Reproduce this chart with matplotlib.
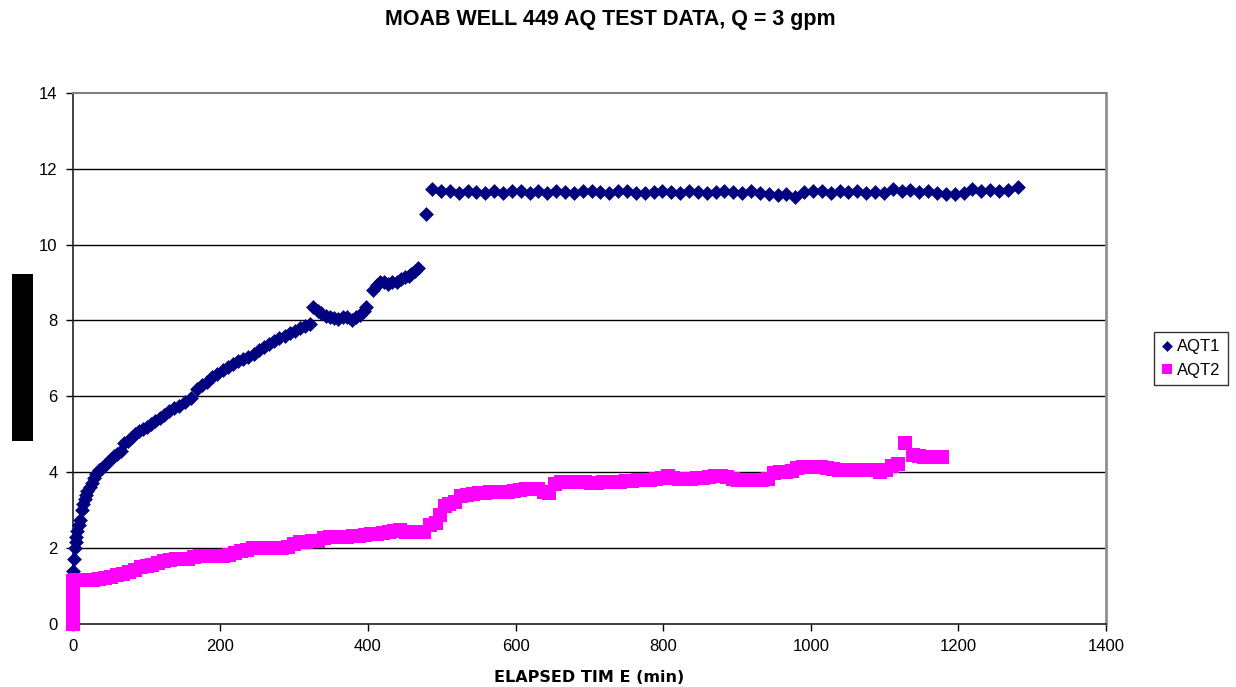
import matplotlib
matplotlib.use("Agg")
import matplotlib.pyplot as plt
from matplotlib.patches import Rectangle

plt.rcParams['font.family'] = ['Liberation Sans', 'DejaVu Sans']

title = "MOAB WELL 449 AQ TEST DATA, Q = 3 gpm"
xlabel = "ELAPSED TIM E (min)"
x_ticks = [0, 200, 400, 600, 800, 1000, 1200, 1400]
y_ticks = [0, 2, 4, 6, 8, 10, 12, 14]

# AQT1 (elapsed minutes, value)
aqt1_x_early = [0.5, 1, 2, 3, 4, 5, 6, 8, 10, 12, 14, 16, 18, 20, 23, 26, 29, 32, 36, 40,
                44, 48, 52, 56, 60, 65, 70, 75, 80, 85, 90, 95, 100, 106, 112, 118, 124, 130,
                137, 144, 152, 160, 168, 175, 182, 189, 196, 203, 210, 217, 224, 231, 238,
                245, 252, 259, 266, 273, 280, 287, 294, 301, 308, 315, 321, 326, 332, 337,
                343, 348, 354, 360, 366, 371, 378, 384, 389, 394, 398, 407, 412, 416, 422,
                427, 433, 439, 445, 450, 455, 459, 464, 468, 479]
aqt1_y_early = [1.2, 1.4, 1.7, 2.0, 2.15, 2.3, 2.45, 2.6, 2.75, 3.0, 3.15, 3.3, 3.4, 3.5, 3.6,
                3.72, 3.85, 3.95, 4.05, 4.12, 4.2, 4.27, 4.35, 4.42, 4.48, 4.55, 4.78, 4.82,
                4.92, 5.0, 5.08, 5.13, 5.2, 5.28, 5.35, 5.42, 5.5, 5.62, 5.68, 5.75, 5.85,
                5.95, 6.2, 6.3, 6.38, 6.5, 6.6, 6.7, 6.78, 6.85, 6.93, 6.98, 7.03, 7.12,
                7.22, 7.3, 7.38, 7.47, 7.53, 7.6, 7.68, 7.72, 7.8, 7.85, 7.91, 8.35, 8.25,
                8.2, 8.12, 8.09, 8.07, 8.05, 8.08, 8.09, 8.0, 8.08, 8.15, 8.25, 8.35, 8.8,
                8.92, 9.01, 9.0, 8.97, 9.0, 9.01, 9.08, 9.14, 9.18, 9.23, 9.3, 9.38, 10.8]
aqt1_x_late = [487, 499, 511, 523, 535, 547, 559, 571, 583, 595, 607, 619, 631, 643, 655, 667,
               679, 691, 703, 715, 727, 739, 751, 763, 775, 787, 799, 811, 823, 835, 847, 859,
               871, 883, 895, 907, 919, 931, 943, 955, 967, 979, 991, 1003, 1015, 1027, 1039,
               1051, 1063, 1075, 1087, 1099, 1111, 1123, 1135, 1147, 1159, 1171, 1183, 1195,
               1207, 1219, 1231, 1243, 1255, 1267, 1281]
aqt1_y_late = [11.46, 11.40, 11.42, 11.36, 11.40, 11.38, 11.35, 11.41, 11.36, 11.40, 11.42,
               11.37, 11.40, 11.36, 11.41, 11.38, 11.35, 11.40, 11.42, 11.38, 11.36, 11.40,
               11.41, 11.37, 11.35, 11.39, 11.42, 11.38, 11.36, 11.40, 11.38, 11.35, 11.39,
               11.41, 11.38, 11.36, 11.40, 11.37, 11.34, 11.31, 11.33, 11.24, 11.38, 11.42,
               11.40, 11.37, 11.41, 11.38, 11.40, 11.36, 11.39, 11.37, 11.46, 11.41, 11.43,
               11.39, 11.40, 11.36, 11.34, 11.33, 11.37, 11.46, 11.41, 11.43, 11.40, 11.43,
               11.51]

# AQT2
aqt2_x = [0, 0, 0, 0, 0, 0, 0, 1, 5, 12, 20, 28, 36, 44, 52, 60, 68, 76, 84, 92, 100, 108,
          116, 124, 132, 140, 148, 156, 164, 172, 180, 188, 196, 204, 212, 220, 228, 236,
          244, 252, 260, 268, 276, 284, 292, 300, 308, 316, 324, 332, 340, 348, 356, 364,
          372, 380, 388, 396, 404, 412, 420, 428, 436, 444, 452, 460, 468, 476, 484, 492,
          498, 504, 510, 518, 526, 534, 542, 550, 558, 566, 574, 582, 590, 598, 606, 614,
          622, 630, 638, 646, 654, 662, 670, 678, 686, 694, 702, 710, 718, 726, 734, 742,
          750, 758, 766, 774, 782, 790, 798, 806, 814, 822, 830, 838, 846, 854, 862, 870,
          878, 886, 894, 902, 910, 918, 926, 934, 942, 950, 958, 966, 974, 982, 990, 998,
          1006, 1014, 1022, 1030, 1038, 1046, 1054, 1062, 1070, 1078, 1086, 1094, 1102,
          1110, 1118, 1127, 1138, 1146, 1154, 1162, 1170, 1178]
aqt2_y = [0.0, 0.1, 0.3, 0.5, 0.7, 0.9, 1.05, 1.12, 1.15, 1.15, 1.16, 1.17, 1.18, 1.22, 1.25,
          1.3, 1.33, 1.38, 1.42, 1.5, 1.52, 1.55, 1.6, 1.65, 1.68, 1.7, 1.7, 1.72, 1.76,
          1.78, 1.78, 1.8, 1.8, 1.8, 1.82, 1.88, 1.92, 1.96, 2.0, 2.0, 2.0, 2.0, 2.0, 2.0,
          2.02, 2.12, 2.15, 2.17, 2.18, 2.2, 2.26, 2.28, 2.3, 2.3, 2.3, 2.32, 2.33, 2.35,
          2.36, 2.38, 2.4, 2.42, 2.45, 2.47, 2.43, 2.43, 2.43, 2.43, 2.6, 2.65, 2.88, 3.12,
          3.15, 3.22, 3.38, 3.4, 3.42, 3.45, 3.46, 3.47, 3.48, 3.48, 3.49, 3.5, 3.52, 3.55,
          3.55, 3.55, 3.47, 3.45, 3.68, 3.73, 3.74, 3.74, 3.75, 3.74, 3.72, 3.72, 3.73,
          3.74, 3.73, 3.74, 3.76, 3.78, 3.79, 3.8, 3.8, 3.82, 3.84, 3.9, 3.85, 3.83, 3.82,
          3.83, 3.84, 3.86, 3.88, 3.9, 3.9, 3.88, 3.82, 3.8, 3.8, 3.8, 3.8, 3.8, 3.82, 3.98,
          4.0, 4.01, 4.02, 4.12, 4.14, 4.14, 4.14, 4.13, 4.12, 4.08, 4.06, 4.06, 4.05, 4.05,
          4.05, 4.06, 4.06, 4.0, 4.07, 4.17, 4.21, 4.77, 4.45, 4.42, 4.4, 4.4, 4.4, 4.4]

aqt1_x = aqt1_x_early + aqt1_x_late
aqt1_y = aqt1_y_early + aqt1_y_late

fig = plt.figure(figsize=(12.36, 6.87), dpi=100)
ax = fig.add_axes([72.7 / 1236, 1 - 624 / 687, (1106 - 72.7) / 1236, (624 - 92.7) / 687])

ax.set_xlim(0, 1400)
ax.set_ylim(0, 14)
ax.set_xticks(x_ticks)
ax.set_yticks(y_ticks)
ax.tick_params(axis='both', direction='out', length=5, width=1, labelsize=12, colors='black')
ax.tick_params(axis='x', pad=6)
ax.tick_params(axis='y', pad=6)

for y in y_ticks[1:-1]:
    ax.axhline(y, color='black', lw=1.0, zorder=1)

ax.spines['left'].set_color('#202020')
ax.spines['bottom'].set_color('#202020')
ax.spines['top'].set_color('#808080')
ax.spines['right'].set_color('#909090')
ax.spines['top'].set_linewidth(1.5)
ax.spines['right'].set_linewidth(2)
ax.spines['left'].set_linewidth(1.2)
ax.spines['bottom'].set_linewidth(1.2)

ax.plot(aqt1_x, aqt1_y, linestyle='none', marker='D', markersize=6.8, color='#000080',
        markeredgecolor='#000080', markeredgewidth=0.4, label='AQT1', zorder=3, clip_on=False)
ax.plot(aqt2_x, aqt2_y, linestyle='none', marker='s', markersize=9.4, color='#FF00FF',
        markeredgewidth=0, label='AQT2', zorder=4, clip_on=False)

fig.text(610 / 1236, 1 - 19 / 687, title, ha='center', va='center', fontsize=15.5,
         fontweight='bold')
fig.text(589 / 1236, 1 - 678 / 687, xlabel, ha='center', va='center', fontsize=11.5,
         fontweight='bold', family=['DejaVu Sans'])

fig.patches.append(Rectangle((12 / 1236, 1 - 441 / 687), 21 / 1236, 167 / 687,
                             transform=fig.transFigure, facecolor='black', edgecolor='none'))

leg = fig.legend(loc='center', bbox_to_anchor=(1191 / 1236, 1 - 358.5 / 687), fontsize=12,
                 frameon=True, fancybox=False, edgecolor='black', handlelength=0.6,
                 handletextpad=0.3, borderpad=0.45, labelspacing=0.5, markerscale=0.8)
leg.get_frame().set_linewidth(1.0)

fig.savefig('out.png', dpi=100)
